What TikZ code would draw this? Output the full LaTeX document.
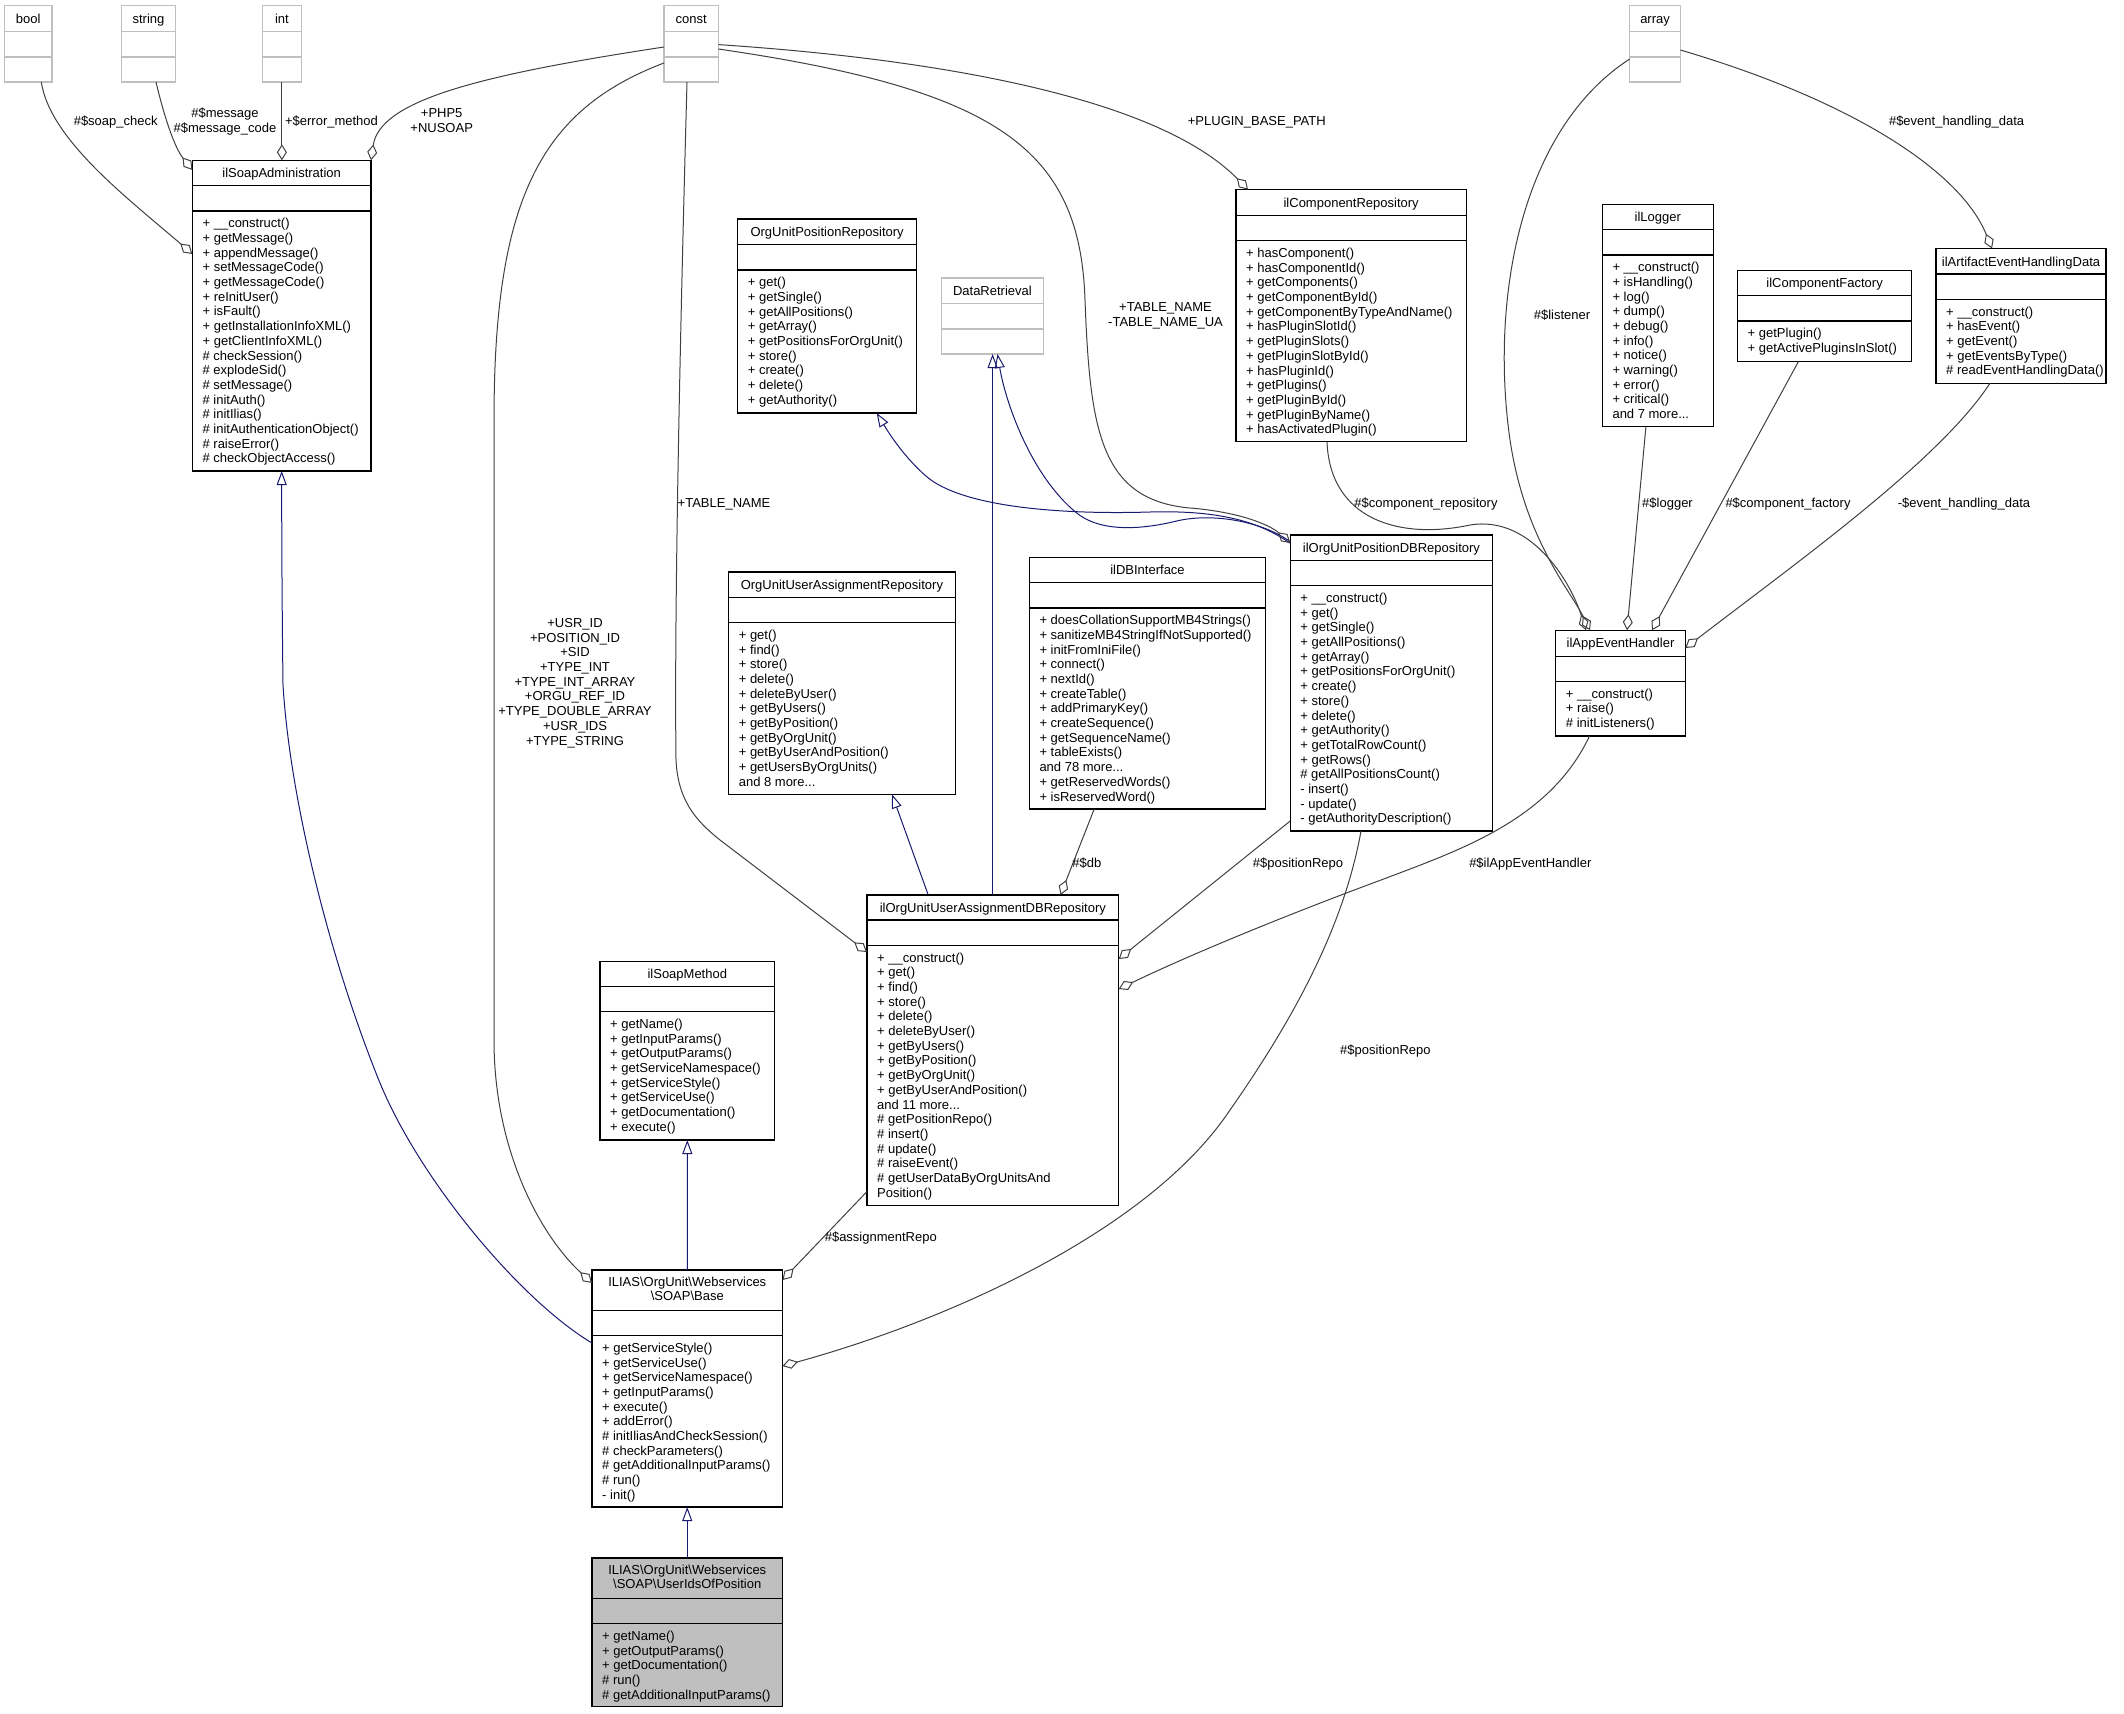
\documentclass[tikz,border=0pt]{standalone}
\usepackage{fontspec}
\setmainfont{Liberation Sans}
\usetikzlibrary{arrows.meta}

\definecolor{edgegray}{HTML}{404040}
\definecolor{inhblue}{HTML}{191970}
\definecolor{typegray}{HTML}{BFBFBF}

\newcommand{\capstrut}{\rule{0pt}{11pt}}
\newcommand{\twoline}[2]{\raisebox{-6pt}{\begin{tabular}[b]{@{}c@{}}#1\\#2\end{tabular}}}
% [style]{name}{x}{y}{width}{height}{header}{title}{members}
\newcommand{\classbox}[9][cls]{%
  \node[#1, anchor=north west, minimum width=#5, minimum height=#6] (#2) at (#3,#4) {};
  \draw[#1, fill=none] (#2.north west) ++(0,#7) -- ++(#5,0) ++(-#5,25.3) -- ++(#5,0);
  \node[classtitle] (#2-t) at ([shift={(#5/2,#7/2)}]#2.north west) {#8};
  \node[members] (#2-m) at ([shift={(10,#7+30.8)}]#2.north west) {\capstrut #9};
}

\begin{document}
\begin{tikzpicture}[x=1pt, y=-1pt, font=\fontsize{13}{14.7}\selectfont,
    cls/.style={draw=black, line width=1.2pt, inner sep=0pt, outer sep=0pt},
    typebox/.style={cls, draw=typegray},
    classtitle/.style={inner sep=0pt, anchor=center, text height=9.4pt, text depth=0pt},
    members/.style={inner sep=0pt, anchor=north west, align=left},
    lbl/.style={inner sep=0pt, align=center},
    agg/.style={draw=edgegray, line width=1pt, -{Diamond[open, length=16pt, width=10pt]}},
    inh/.style={draw=inhblue, line width=1pt, -{Triangle[open, length=14pt, width=10pt]}}]
    \useasboundingbox (0,0) rectangle (2124,1713);

    % types
    \classbox[typebox]{bool}{4.6}{5.7}{47.3}{76.3}{25.9}{bool}{}
    \classbox[typebox]{string}{121.2}{5.7}{54.6}{76.3}{25.9}{string}{}
    \classbox[typebox]{int}{262.6}{5.7}{38.6}{76.3}{25.9}{int}{}
    \classbox[typebox]{const}{664}{5.7}{54.3}{76.3}{25.9}{const}{}
    \classbox[typebox]{array}{1629.7}{5.7}{50.7}{76.3}{25.9}{array}{}
    \classbox[typebox]{dataretr}{941.3}{277.9}{102.2}{76.1}{25.7}{DataRetrieval}{}

    % classes
    \classbox{soapadm}{192.4}{160.3}{178.6}{310.7}{25.4}{ilSoapAdministration}{+ \_\_construct()\\+ getMessage()\\+ appendMessage()\\+ setMessageCode()\\+ getMessageCode()\\+ reInitUser()\\+ isFault()\\+ getInstallationInfoXML()\\+ getClientInfoXML()\\\# checkSession()\\\# explodeSid()\\\# setMessage()\\\# initAuth()\\\# initIlias()\\\# initAuthenticationObject()\\\# raiseError()\\\# checkObjectAccess()}
    \classbox{posrepo}{737.7}{219}{178.8}{194}{25.6}{OrgUnitPositionRepository}{+ get()\\+ getSingle()\\+ getAllPositions()\\+ getArray()\\+ getPositionsForOrgUnit()\\+ store()\\+ create()\\+ delete()\\+ getAuthority()}
    \classbox{comprepo}{1236}{189.6}{230.3}{252.2}{25.8}{ilComponentRepository}{+ hasComponent()\\+ hasComponentId()\\+ getComponents()\\+ getComponentById()\\+ getComponentByTypeAndName()\\+ hasPluginSlotId()\\+ getPluginSlots()\\+ getPluginSlotById()\\+ hasPluginId()\\+ getPlugins()\\+ getPluginById()\\+ getPluginByName()\\+ hasActivatedPlugin()}
    \classbox{logger}{1602.3}{204.6}{110.9}{222.2}{25}{ilLogger}{+ \_\_construct()\\+ isHandling()\\+ log()\\+ dump()\\+ debug()\\+ info()\\+ notice()\\+ warning()\\+ error()\\+ critical()\\and 7 more...}
    \classbox{compfactory}{1737.5}{270.7}{174.2}{90.7}{25}{ilComponentFactory}{+ getPlugin()\\+ getActivePluginsInSlot()}
    \classbox{artifact}{1936}{248.6}{170}{134.6}{25.4}{ilArtifactEventHandlingData}{+ \_\_construct()\\+ hasEvent()\\+ getEvent()\\+ getEventsByType()\\\# readEventHandlingData()}
    \classbox{ouarepo}{728.6}{572}{226.6}{222.3}{25.3}{OrgUnitUserAssignmentRepository}{+ get()\\+ find()\\+ store()\\+ delete()\\+ deleteByUser()\\+ getByUsers()\\+ getByPosition()\\+ getByOrgUnit()\\+ getByUserAndPosition()\\+ getUsersByOrgUnits()\\and 8 more...}
    \classbox{dbint}{1029.3}{557.4}{236.4}{251.6}{25.2}{ilDBInterface}{+ doesCollationSupportMB4Strings()\\+ sanitizeMB4StringIfNotSupported()\\+ initFromIniFile()\\+ connect()\\+ nextId()\\+ createTable()\\+ addPrimaryKey()\\+ createSequence()\\+ getSequenceName()\\+ tableExists()\\and 78 more...\\+ getReservedWords()\\+ isReservedWord()}
    \classbox{posdb}{1290.2}{535}{202.5}{296}{25.4}{ilOrgUnitPositionDBRepository}{+ \_\_construct()\\+ get()\\+ getSingle()\\+ getAllPositions()\\+ getArray()\\+ getPositionsForOrgUnit()\\+ create()\\+ store()\\+ delete()\\+ getAuthority()\\+ getTotalRowCount()\\+ getRows()\\\# getAllPositionsCount()\\- insert()\\- update()\\- getAuthorityDescription()}
    \classbox{appevent}{1555.7}{630.2}{129.6}{105.8}{26}{ilAppEventHandler}{+ \_\_construct()\\+ raise()\\\# initListeners()}
    \classbox{assigndb}{867}{894.9}{251.7}{310.7}{25.1}{ilOrgUnitUserAssignmentDBRepository}{+ \_\_construct()\\+ get()\\+ find()\\+ store()\\+ delete()\\+ deleteByUser()\\+ getByUsers()\\+ getByPosition()\\+ getByOrgUnit()\\+ getByUserAndPosition()\\and 11 more...\\\# getPositionRepo()\\\# insert()\\\# update()\\\# raiseEvent()\\\# getUserDataByOrgUnitsAnd\\Position()}
    \classbox{soapmethod}{600}{961.3}{174.6}{178.7}{25}{ilSoapMethod}{+ getName()\\+ getInputParams()\\+ getOutputParams()\\+ getServiceNamespace()\\+ getServiceStyle()\\+ getServiceUse()\\+ getDocumentation()\\+ execute()}
    \classbox{base}{592}{1269.9}{190.5}{237.1}{40.4}{\twoline{ILIAS\textbackslash OrgUnit\textbackslash Webservices}{\textbackslash SOAP\textbackslash Base}}{+ getServiceStyle()\\+ getServiceUse()\\+ getServiceNamespace()\\+ getInputParams()\\+ execute()\\+ addError()\\\# initIliasAndCheckSession()\\\# checkParameters()\\\# getAdditionalInputParams()\\\# run()\\- init()}
    \classbox[cls, fill=typegray]{userids}{592}{1557.9}{190.5}{148.9}{40.4}{\twoline{ILIAS\textbackslash OrgUnit\textbackslash Webservices}{\textbackslash SOAP\textbackslash UserIdsOfPosition}}{+ getName()\\+ getOutputParams()\\+ getDocumentation()\\\# run()\\\# getAdditionalInputParams()}

    % inheritance
    \draw[inh] (userids.north) -- (base.south);
    \draw[inh] (base.north) -- (soapmethod.south);
    \draw[inh] (base.west |- 0,1343) .. controls (520,1300) and (420,1180) .. (380,1083)
        .. controls (330,960) and (290,800) .. (283,685) .. controls (282,600) and (281.7,540) .. (soapadm.south);
    \draw[inh] (assigndb.north -| 928.2,0) -- (ouarepo.south -| 892,0);
    \draw[inh] (assigndb.north -| 992.6,0) -- (dataretr.south -| 992.6,0);
    \draw[inh] (posdb.west |- 0,543.3) .. controls (1260,522) and (1220,510) .. (1150,512)
        .. controls (1050,515) and (960,505) .. (926.7,476.7) .. controls (905,458) and (890,435) .. (posrepo.south -| 876.7,0);
    \draw[inh] (posdb.west |- 0,541.7) .. controls (1260,520) and (1210,513) .. (1176.7,521)
        .. controls (1140,530) and (1100,532) .. (1076.7,513) .. controls (1030,475) and (1005,400) .. (dataretr.south -| 997.5,0);

    % aggregation
    \draw[agg] (bool.south -| 41.3,0) .. controls (50,140) and (130,200) .. (soapadm.west |- 0,254);
    \draw[agg] (string.south -| 156,0) .. controls (165,120) and (175,148) .. (soapadm.west |- 0,170);
    \draw[agg] (int.south) -- (int.south |- soapadm.north);
    \draw[agg] (const.west |- 0,47) .. controls (480,75) and (380,100) .. (soapadm.north east);
    \draw[agg] (const.west |- 0,63) .. controls (540,110) and (494,200) .. (494,420) -- (494,1040)
        .. controls (494,1150) and (540,1235) .. (base.west |- 0,1283);
    \draw[agg] (const.south -| 687,0) .. controls (681,300) and (674,600) .. (676,760)
        .. controls (678,800) and (695,820) .. (720,840) -- (assigndb.west |- 0,952);
    \draw[agg] (const.east |- 0,44.6) .. controls (950,60) and (1160,100) .. (comprepo.north -| 1248,0);
    \draw[agg] (const.east |- 0,49) .. controls (1000,90) and (1080,150) .. (1085,300)
        .. controls (1090,430) and (1100,500) .. (1190,508) .. controls (1240,512) and (1270,525) .. (posdb.west |- 0,543);
    \draw[agg] (array.east |- 0,50) .. controls (1850,100) and (1960,170) .. (artifact.north -| 1992,0);
    \draw[agg] (array.west |- 0,59) .. controls (1520,130) and (1490,300) .. (1510,440)
        .. controls (1525,540) and (1570,590) .. (appevent.north -| 1590,0);
    \draw[agg] (comprepo.south -| 1327,0) .. controls (1330,520) and (1400,540) .. (1470,525)
        .. controls (1530,515) and (1570,580) .. (appevent.north -| 1586,0);
    \draw[agg] (logger.south -| 1645.9,0) -- (appevent.north -| 1627,0);
    \draw[agg] (compfactory.south -| 1798.5,0) -- (appevent.north -| 1652,0);
    \draw[agg] (artifact.south -| 1990,0) .. controls (1940,460) and (1800,560) .. (appevent.east |- 0,648);
    \draw[agg] (appevent.south -| 1589.5,0) .. controls (1550,820) and (1460,850) .. (1381,880)
        .. controls (1300,910) and (1200,950) .. (assigndb.east |- 0,989);
    \draw[agg] (posdb.west |- 0,821) -- (assigndb.east |- 0,959);
    \draw[agg] (posdb.south -| 1361,0) .. controls (1345,920) and (1300,1010) .. (1230,1110)
        .. controls (1150,1230) and (950,1320) .. (base.east |- 0,1366);
    \draw[agg] (dbint.south -| 1094.2,0) -- (assigndb.north -| 1060.5,0);
    \draw[agg] (assigndb.west |- 0,1191.5) -- (base.east |- 0,1280);

    % edge labels
    \path (115.7,125.4) node[lbl, anchor=base] (l-soapcheck) {\#\$soap\_check};
    \path (225,106.4) node[lbl, anchor=north] (l-message) {\capstrut\#\$message\\\#\$message\_code};
    \path (331.5,125.4) node[lbl, anchor=base] (l-errmethod) {+\$error\_method};
    \path (441.7,106.4) node[lbl, anchor=north] (l-php) {\capstrut+PHP5\\+NUSOAP};
    \path (1256.8,125.4) node[lbl, anchor=base] (l-pluginpath) {+PLUGIN\_BASE\_PATH};
    \path (1165.5,300.7) node[lbl, anchor=north] (l-tablename) {\capstrut+TABLE\_NAME\\-TABLE\_NAME\_UA};
    \path (724,507.2) node[lbl, anchor=base] (l-tablename2) {+TABLE\_NAME};
    \path (575,616.2) node[lbl, anchor=north] (l-consts) {\capstrut+USR\_ID\\+POSITION\_ID\\+SID\\+TYPE\_INT\\+TYPE\_INT\_ARRAY\\+ORGU\_REF\_ID\\+TYPE\_DOUBLE\_ARRAY\\+USR\_IDS\\+TYPE\_STRING};
    \path (1562,319.3) node[lbl, anchor=base] (l-listener) {\#\$listener};
    \path (1956.6,125.4) node[lbl, anchor=base] (l-evdata) {\#\$event\_handling\_data};
    \path (1426,507.1) node[lbl, anchor=base] (l-comprepo) {\#\$component\_repository};
    \path (1667.5,507.1) node[lbl, anchor=base] (l-logger) {\#\$logger};
    \path (1788,507.1) node[lbl, anchor=base] (l-compfactory) {\#\$component\_factory};
    \path (1964,507.1) node[lbl, anchor=base] (l-evdata2) {-\$event\_handling\_data};
    \path (1086.8,867.4) node[lbl, anchor=base] (l-db) {\#\$db};
    \path (1298,867.2) node[lbl, anchor=base] (l-posrepo) {\#\$positionRepo};
    \path (1530.3,867.1) node[lbl, anchor=base] (l-appevent) {\#\$ilAppEventHandler};
    \path (1385.4,1054.2) node[lbl, anchor=base] (l-posrepo2) {\#\$positionRepo};
    \path (880.8,1241.1) node[lbl, anchor=base] (l-assignrepo) {\#\$assignmentRepo};
\end{tikzpicture}
\end{document}
